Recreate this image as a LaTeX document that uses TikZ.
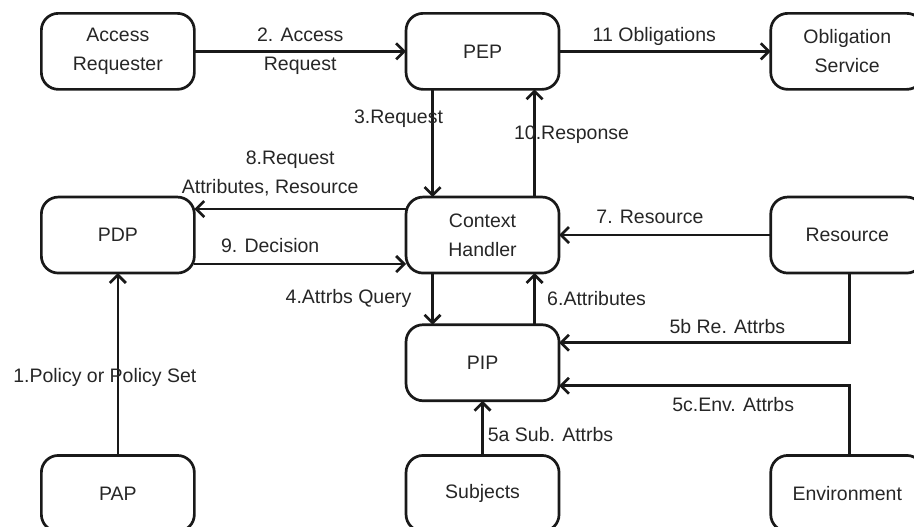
\documentclass[tikz,border=0pt]{standalone}
\usepackage{fontspec}
\setmainfont{Liberation Sans}
\usetikzlibrary{arrows.meta,matrix,positioning}

\begin{document}
\begin{tikzpicture}[x=1pt,y=-1pt,font=\fontsize{19.5}{29}\selectfont,
  entity/.style={draw=black!90,rounded corners=17pt,line width=2.7pt,minimum width=153pt,minimum height=76pt,align=center,inner sep=2pt,text=black!85},
  flow/.style={draw=black!90,line width=2.7pt,-{Straight Barb[length=8pt,width=16pt]}},
  lbl/.style={inner sep=0pt,align=center,text=black!85}]
\useasboundingbox (0,0) rectangle (914,527);
\matrix[row sep=49pt,column sep=209pt,anchor=north west,inner sep=0pt,outer sep=0pt] at (40,12)
{
\node(ar)[entity]{Access\\Requester};  \pgfmatrixnextcell \node(pep)[entity]{PEP};  \pgfmatrixnextcell \node(os)[entity]{Obligation\\Service};\\[56pt]
\node(pdp)[entity]{PDP};  \pgfmatrixnextcell \node(ch)[entity]{Context\\Handler};  \pgfmatrixnextcell \node(res)[entity]{Resource};\\
\pgfmatrixnextcell \node(pip)[entity]{PIP};  \pgfmatrixnextcell \\[3pt]
\node(pap)[entity]{PAP};  \pgfmatrixnextcell \node(sub)[entity]{Subjects};  \pgfmatrixnextcell \node(env)[entity]{Environment};\\
};

\draw [flow] (ar) -- node[lbl]{2. Access\\Request} (pep);
\draw [flow] (pep) -- node[lbl,pos=0.45,yshift=15pt]{11 Obligations} (os);
\draw [flow] ([xshift=-50pt]pep.south) -- node[lbl,pos=0.27,xshift=-34pt]{3.Request} ([xshift=-50pt]ch.north);
\draw [flow] ([xshift=52pt]ch.north) -- node[lbl,pos=0.58,xshift=37pt]{10.Response} ([xshift=52pt]pep.south);
\draw [flow] ([yshift=26pt]ch.west) -- node[lbl,xshift=-30pt,yshift=36pt]{\hspace*{40pt}8.Request\\Attributes, Resource} ([yshift=26pt]pdp.east);
\draw [flow] ([yshift=-29pt]pdp.east) -- node[lbl,xshift=-30pt,yshift=19pt]{9. Decision} ([yshift=-29pt]ch.west);
\draw [flow] (res) -- node[lbl,xshift=-15pt,yshift=18pt]{7. Resource} (ch);
\draw [flow] ([xshift=-50pt]ch.south) -- node[lbl,xshift=-84pt]{4.Attrbs Query} ([xshift=-50pt]pip.north);
\draw [flow] ([xshift=52pt]pip.north) -- node[lbl,xshift=62pt]{6.Attributes} ([xshift=52pt]ch.south);
\draw [flow] ([xshift=2pt]res.south) |- node[lbl,pos=0.71,yshift=16pt]{5b Re. Attrbs} ([yshift=20pt]pip.east);
\draw [flow] ([xshift=2pt]env.north) |- node[lbl,pos=0.7,yshift=-19pt]{5c.Env. Attrbs} ([yshift=-23pt]pip.east);
\draw [flow] (sub) -- node[lbl,pos=0.38,xshift=68pt]{5a Sub. Attrbs} (pip);
\draw [flow] (pap) -- node[lbl,pos=0.43,xshift=-13pt]{1.Policy or Policy Set} (pdp);
\end{tikzpicture}
\end{document}
